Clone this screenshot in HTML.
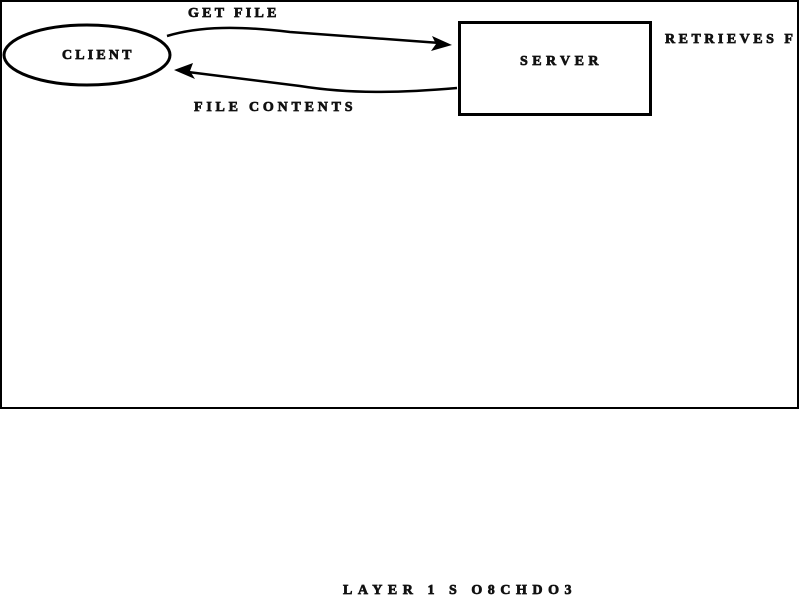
<!DOCTYPE html>
<html><head><meta charset="utf-8"><style>
html,body{margin:0;padding:0;background:#fff;width:800px;height:600px;overflow:hidden}
svg text{font-family:"Liberation Serif",serif;font-weight:bold;font-size:14px;letter-spacing:3.5px;fill:#111;stroke:#111;stroke-width:0.7}
</style></head><body>
<svg width="800" height="600" xmlns="http://www.w3.org/2000/svg">
<rect x="1" y="1" width="797" height="407" fill="none" stroke="#000" stroke-width="2"/>
<ellipse cx="87" cy="55" rx="83" ry="30" fill="none" stroke="#000" stroke-width="3"/>
<rect x="459.5" y="22.5" width="191" height="92" fill="none" stroke="#000" stroke-width="3"/>
<path d="M167,36 C200,26 240,26 290,32 L440,43" fill="none" stroke="#000" stroke-width="2.5"/>
<polygon points="452,45 432,36 436,44 431,51" fill="#000"/>
<path d="M457,88 C400,93 350,94 300,86 L188,72" fill="none" stroke="#000" stroke-width="2.5"/>
<polygon points="174,70 193,63 190,71 195,79" fill="#000"/>
<text x="188" y="17" textLength="92" lengthAdjust="spacing">GET FILE</text>
<text x="62" y="59" textLength="73" lengthAdjust="spacing">CLIENT</text>
<text x="520" y="65" textLength="82" lengthAdjust="spacing">SERVER</text>
<text x="665" y="43">RETRIEVES F</text>
<text x="194" y="111" textLength="162" lengthAdjust="spacing">FILE CONTENTS</text>
<text x="343" y="594" textLength="232" lengthAdjust="spacing">LAYER 1  S  O8CHDO3</text>
</svg>
</body></html>
